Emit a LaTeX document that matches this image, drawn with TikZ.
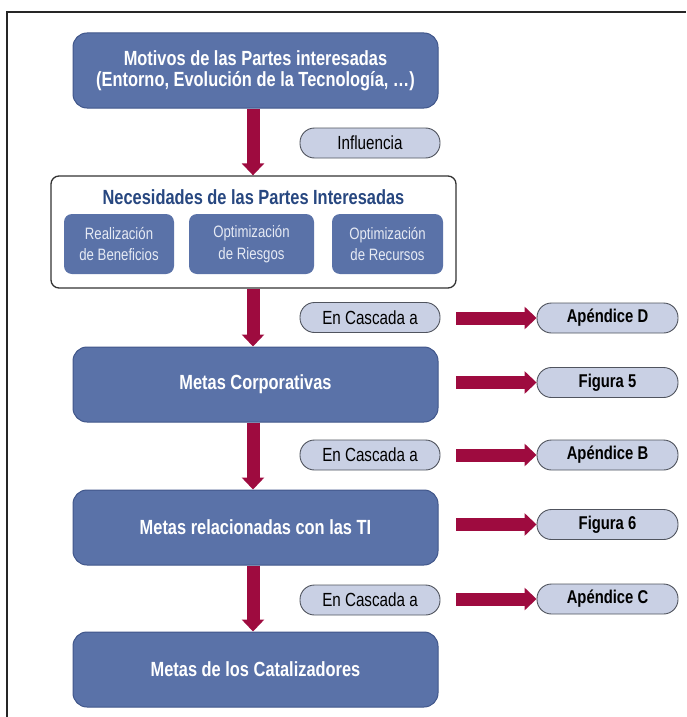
\documentclass[tikz,border=0pt]{standalone}
\usepackage{fontspec}
\setmainfont{Liberation Sans}[FakeStretch=0.8]
\usetikzlibrary{arrows.meta}
\definecolor{boxblue}{HTML}{5A72A8}
\definecolor{boxedge}{HTML}{40568A}
\definecolor{pillfill}{HTML}{C9D0E4}
\definecolor{pilledge}{HTML}{50545E}
\definecolor{flowred}{HTML}{9E0B3F}
\definecolor{titleblue}{HTML}{274780}
\definecolor{subtext}{HTML}{E6EAF4}
\tikzset{
  mainbox/.style={draw=boxedge, line width=1pt, fill=boxblue, rounded corners=14pt,
    minimum width=365pt, minimum height=75pt, inner sep=0pt, align=center,
    text=white, font=\fontsize{20.5}{21.5}\selectfont\bfseries},
  subbox/.style={fill=boxblue, rounded corners=8pt, minimum height=60pt, inner sep=0pt,
    align=center, text=subtext, font=\fontsize{16.5}{21.5}\selectfont},
  framebox/.style={draw=black!80, line width=1.3pt, fill=white, rounded corners=8pt,
    minimum width=405pt, minimum height=112pt, inner sep=0pt},
  pill/.style={draw=pilledge, line width=0.9pt, fill=pillfill, rounded corners=14.5pt,
    minimum width=140pt, minimum height=30pt, inner sep=0pt,
    font=\fontsize{19}{20}\selectfont},
  refpill/.style={pill, minimum width=141pt, font=\fontsize{18.5}{20}\selectfont\bfseries},
  flow/.style={draw=flowred, line width=13pt, -{Triangle[width=22pt,length=12pt]}},
}
\begin{document}
\begin{tikzpicture}[x=1pt,y=-1pt]
\useasboundingbox (0,0) rectangle (686,717);
% page frame (top and left edges)
\draw[line width=2pt, black!85] (7,717) -- (7,12) -- (686,12);

% main column
\node[mainbox] (motivos) at (255.5,70.5) {Motivos de las Partes interesadas\\(Entorno, Evolución de la Tecnología, \dots)};
\node[framebox] (neces) at (253.5,232) {};
\node[text=titleblue, font=\fontsize{20.5}{21.5}\selectfont\bfseries] (nectitle) at (253.5,197) {Necesidades de las Partes Interesadas};
\node[subbox, minimum width=110pt] (realiz) at (119,244) {Realización\\de Beneficios};
\node[subbox, minimum width=125pt] (riesgos) at (251.5,244) {Optimización\\de Riesgos};
\node[subbox, minimum width=111pt] (recursos) at (387.5,244) {Optimización\\de Recursos};
\node[mainbox] (corp) at (255.5,384.5) {Metas Corporativas};
\node[mainbox] (ti) at (255.5,527.5) {Metas relacionadas con las TI};
\node[mainbox] (cat) at (255.5,669.5) {Metas de los Catalizadores};

% labels beside the column
\node[pill] (infl) at (370,143) {Influencia};
\node[pill] (casc1) at (370,317.5) {En Cascada a};
\node[pill] (casc2) at (370,455) {En Cascada a};
\node[pill] (casc3) at (370,600) {En Cascada a};

% references on the right
\node[refpill] (apD) at (607.5,318) {Apéndice D};
\node[refpill] (fig5) at (607.5,382.5) {Figura 5};
\node[refpill] (apB) at (607.5,455) {Apéndice B};
\node[refpill] (fig6) at (607.5,524.5) {Figura 6};
\node[refpill] (apC) at (607.5,599) {Apéndice C};

% vertical flow
\coordinate (ax) at (253,0);
\draw[flow] (motivos.south -| ax) -- (neces.north -| ax);
\draw[flow] (neces.south -| ax) -- (corp.north -| ax);
\draw[flow] (corp.south -| ax) -- (ti.north -| ax);
\draw[flow] (ti.south -| ax) -- (cat.north -| ax);

% horizontal flows to the references
\coordinate (hx) at (456,0);
\draw[flow] (apD.west -| hx) -- (apD.west);
\draw[flow] (fig5.west -| hx) -- (fig5.west);
\draw[flow] (apB.west -| hx) -- (apB.west);
\draw[flow] (fig6.west -| hx) -- (fig6.west);
\draw[flow] (apC.west -| hx) -- (apC.west);
\end{tikzpicture}
\end{document}
